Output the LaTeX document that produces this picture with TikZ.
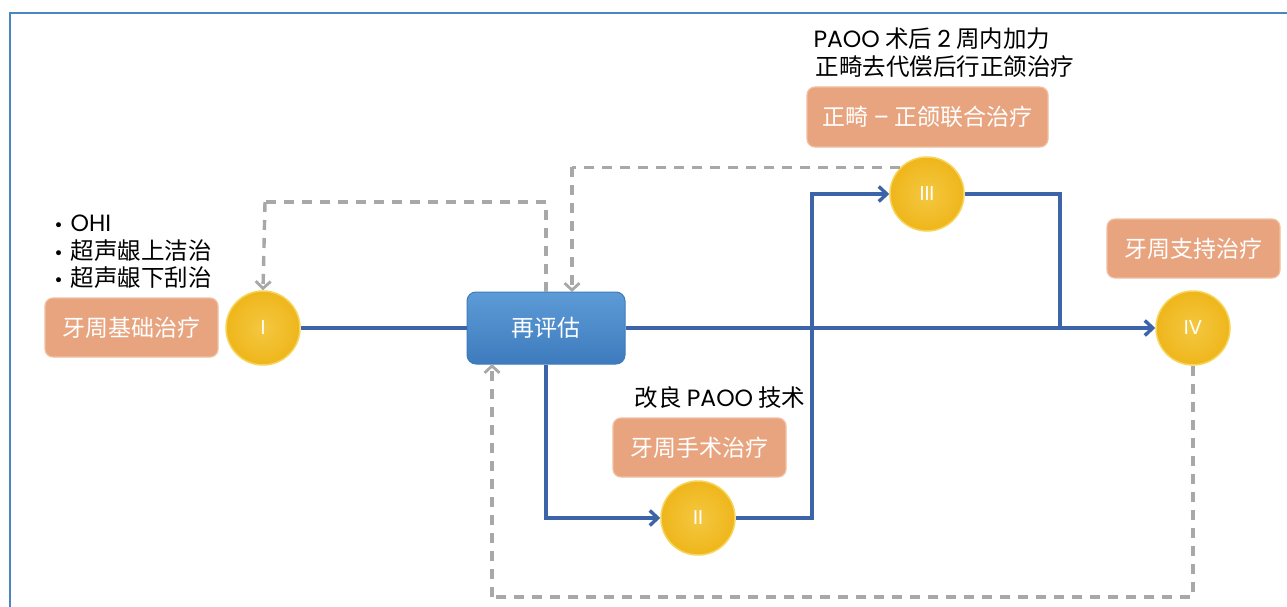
\documentclass[tikz,border=0pt]{standalone}
\usepackage{fontspec}
\setmainfont{Noto Sans CJK SC}
\newfontfamily\cjk{Noto Sans CJK SC}
\newfontfamily\lat{Poppins}
\newfontfamily\dejavu{DejaVu Sans}
\usetikzlibrary{arrows.meta,calc}
\definecolor{framebl}{HTML}{4A86C0}
\definecolor{boxor}{HTML}{E8A47F}
\definecolor{boxorline}{HTML}{F0BFA0}
\definecolor{circy}{HTML}{EFB61B}
\definecolor{circyl}{HTML}{F7D45A}
\definecolor{linebl}{HTML}{3D63A8}
\definecolor{dashgr}{HTML}{A8A8A8}
\definecolor{evtop}{HTML}{5C9BD6}
\definecolor{evbot}{HTML}{3E7BBE}
\newcommand{\bul}{{\dejavu\fontsize{17}{20}\selectfont •}\hspace{7pt}}
\tikzset{
  txt/.style={font=\fontsize{23.5}{28}\selectfont},
  obox/.style={draw=boxorline, line width=1.2pt, fill=boxor, rounded corners=8pt, minimum width=173pt, minimum height=59pt, text=white, font=\fontsize{23}{28}\selectfont, inner sep=0pt},
  stage/.style={circle, draw=circyl, line width=1.5pt, inner color=circyl!60!circy, outer color=circy, minimum size=74pt, inner sep=0pt, text=white, font=\lat\fontsize{20}{24}\selectfont},
  flow/.style={draw=linebl, line width=3.6pt},
  flowarr/.style={flow, -{Straight Barb[length=8pt,width=15pt,line width=3.4pt]}},
  fb/.style={draw=dashgr, line width=3.4pt, dash pattern=on 10pt off 8pt},
  fbarr/.style={fb, -{Straight Barb[length=7pt,width=15pt,line width=2.8pt]}},
}
\begin{document}
\begin{tikzpicture}[x=1pt,y=-1pt]
\useasboundingbox (0,0) rectangle (1287,607);
\fill[white] (0,0) rectangle (1287,607);
\draw[framebl, line width=2.4pt] (10,607) -- (10,13) -- (1287,13);

% nodes
\node[obox] (b1) at (131.5,327.5) {牙周基础治疗};
\node[stage] (c1) at (263,328) {I};
\node[draw=evbot, line width=1pt, top color=evtop, bottom color=evbot, rounded corners=9pt, minimum width=158pt, minimum height=72pt, text=white, font=\fontsize{23}{28}\selectfont, inner sep=0pt] (ev) at (546,328) {再评估};
\node[stage] (c2) at (698,518) {II};
\node[obox] (b2) at (699.5,447.5) {牙周手术治疗};
\node[txt, anchor=west] (t2) at (631,398) {改良 {\lat PAOO} 技术};
\node[stage] (c3) at (927,194) {III};
\node[obox, minimum width=241pt, minimum height=60pt] (b3) at (927.5,117) {正畸 {\lat –} 正颌联合治疗};
\node[txt, anchor=west] (t3a) at (810,39) {{\lat PAOO} 术后 {\lat 2} 周内加力};
\node[txt, anchor=west] (t3b) at (812,67) {正畸去代偿后行正颌治疗};
\node[stage] (c4) at (1193,328) {IV};
\node[obox] (b4) at (1193.5,248.5) {牙周支持治疗};
\node[txt, anchor=west] (l1) at (50,223) {\bul{\lat OHI}};
\node[txt, anchor=west] (l2) at (50,251) {\bul 超声龈上洁治};
\node[txt, anchor=west] (l3) at (50,278) {\bul 超声龈下刮治};

\coordinate (j1) at (812,518);
\coordinate (j2) at (812,194);
\coordinate (j3) at (1060,194);
\coordinate (j4) at (1060,328);

% blue flow
\draw[flow] (c1.east) -- (ev.west);
\draw[flowarr] (ev.east) -- (c4.west);
\draw[flowarr] (ev.south) |- (c2.west);
\draw[flowarr] (c2.east) -- (j1) -- (j2) -- (c3.west);
\draw[flow] (c3.east) -- (j3) -- (j4);

% dashed feedback
\coordinate (d1) at (546,202);
\coordinate (d2) at (265,202);
\draw[fb] (ev.north) -- (d1) -- (d2);
\draw[fbarr] (d2) -- (c1.north);
\coordinate (d4) at (572,292);
\coordinate (d3) at (c3.135 -| d4);
\draw[fb] (c3.135) -- (d3);
\draw[fbarr] (d3) -- (d4);
\coordinate (d5) at (1193,597);
\coordinate (d6) at (492,597);
\coordinate (d7) at (492,364);
\draw[fb] (c4.south) -- (d5) -- (d6);
\draw[fbarr] (d6) -- (d7);
\end{tikzpicture}
\end{document}
